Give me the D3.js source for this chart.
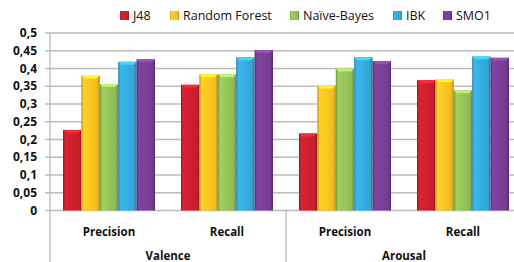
<!DOCTYPE html>
<html>
<head>
<meta charset="utf-8" />
<title>Valence / Arousal</title>
<style>
  body { margin: 0; background: #fff; }
  text { font-family: "Open Sans", sans-serif; fill: #111; }
</style>
</head>
<body>
<svg width="514" height="262"></svg>
<script src="https://cdn.jsdelivr.net/npm/d3@7"></script>
<script>
// chart values
var dimensions = ['Valence', 'Arousal'];
var measures = ['Precision', 'Recall'];
var classifiers = ['J48', 'Random Forest', 'Naïve-Bayes', 'IBK', 'SMO1'];
var colours = ['#d0202e', '#fcc623', '#97c55a', '#36ade1', '#7b3f98'];

var valencePrecision = [0.227, 0.380, 0.356, 0.419, 0.426];
var valenceRecall    = [0.354, 0.384, 0.384, 0.432, 0.452];
var arousalPrecision = [0.217, 0.352, 0.400, 0.432, 0.421];
var arousalRecall    = [0.367, 0.370, 0.339, 0.434, 0.430];

var yTicks = [0, 0.05, 0.1, 0.15, 0.2, 0.25, 0.3, 0.35, 0.4, 0.45, 0.5];
var yTickLabels = ['0', '0,05', '0,1', '0,15', '0,2', '0,25', '0,3', '0,35', '0,4', '0,45', '0,5'];

var groups = [
    { dim: 'Valence', measure: 'Precision', values: valencePrecision },
    { dim: 'Valence', measure: 'Recall', values: valenceRecall },
    { dim: 'Arousal', measure: 'Precision', values: arousalPrecision },
    { dim: 'Arousal', measure: 'Recall', values: arousalRecall }
];

var plotLeft = 50, plotRight = 522, plotTop = 33, plotBottom = 210.5;
var svg = d3.select('svg');
var defs = svg.append('defs');

var y = d3.scaleLinear().domain([0, 0.5]).range([plotBottom, plotTop]);
var x0 = d3.scaleBand().domain(d3.range(groups.length)).range([plotLeft, plotRight]);
var x1 = d3.scaleBand().domain(classifiers).range([13, x0.bandwidth() - 13]);
var dimScale = d3.scaleBand().domain(dimensions).range([plotLeft, plotRight]);
var colour = d3.scaleOrdinal().domain(classifiers).range(colours);

// gradients for the bevelled bars
classifiers.forEach(function (c, i) {
    var base = d3.color(colour(c));
    var g = defs.append('linearGradient').attr('id', 'g' + i)
        .attr('x1', 0).attr('x2', 1).attr('y1', 0).attr('y2', 0);
    g.append('stop').attr('offset', 0).attr('stop-color', base.darker(0.9));
    g.append('stop').attr('offset', 0.12).attr('stop-color', base.brighter(0.15));
    g.append('stop').attr('offset', 0.5).attr('stop-color', base);
    g.append('stop').attr('offset', 0.86).attr('stop-color', base.darker(0.15));
    g.append('stop').attr('offset', 1).attr('stop-color', base.darker(1));
});

// gridlines + tick marks
svg.append('g').selectAll('line').data(yTicks).enter().append('line')
    .attr('x1', plotLeft - 5).attr('x2', plotRight)
    .attr('y1', function (d) { return y(d); })
    .attr('y2', function (d) { return y(d); })
    .attr('stroke', '#bcbcbc').attr('stroke-width', 1.3);

svg.append('g').selectAll('text').data(yTicks).enter().append('text')
    .attr('x', 37).attr('y', function (d) { return y(d); })
    .attr('dy', '0.35em').attr('text-anchor', 'end')
    .style('font-size', '12px').style('font-weight', 'bold')
    .text(function (d, i) { return yTickLabels[i]; });

// axis and category separators
svg.append('line').attr('x1', plotLeft).attr('x2', plotLeft).attr('y1', plotTop).attr('y2', 262)
    .attr('stroke', '#bcbcbc').attr('stroke-width', 1.3);
svg.append('line').attr('x1', dimScale('Arousal')).attr('x2', dimScale('Arousal'))
    .attr('y1', plotBottom).attr('y2', 262)
    .attr('stroke', '#bcbcbc').attr('stroke-width', 1.3);

// bars
var gr = svg.append('g').selectAll('g').data(groups).enter().append('g')
    .attr('transform', function (d, i) { return 'translate(' + x0(i) + ',0)'; });

var bar = gr.selectAll('g').data(function (d) {
        return d.values.map(function (v, i) { return { name: classifiers[i], i: i, value: v }; });
    }).enter().append('g');

bar.append('rect')
    .attr('x', function (d) { return x1(d.name); })
    .attr('y', function (d) { return y(d.value); })
    .attr('width', x1.bandwidth())
    .attr('height', function (d) { return plotBottom - y(d.value); })
    .attr('fill', function (d) { return 'url(#g' + d.i + ')'; });

// top bevel
bar.append('path')
    .attr('d', function (d) {
        var xa = x1(d.name), w = x1.bandwidth(), ya = y(d.value);
        return 'M' + xa + ',' + ya + 'h' + w + 'l-3,3h' + (-(w - 6)) + 'z';
    })
    .attr('fill', function (d) { return d3.color(colour(d.name)).brighter(0.6); });

// category labels
gr.append('text')
    .attr('x', x0.bandwidth() / 2).attr('y', 232).attr('dy', '0.35em')
    .attr('text-anchor', 'middle')
    .style('font-size', '11.5px').style('font-weight', 'bold')
    .text(function (d) { return d.measure; });

svg.append('g').selectAll('text').data(dimensions).enter().append('text')
    .attr('x', function (d) { return dimScale(d) + dimScale.bandwidth() / 2; })
    .attr('y', 256).attr('dy', '0.35em').attr('text-anchor', 'middle')
    .style('font-size', '11.5px').style('font-weight', 'bold')
    .text(function (d) { return d; });

// legend
var legendX = [120, 170, 290, 393, 443];
var lg = svg.append('g').selectAll('g').data(classifiers).enter().append('g')
    .attr('transform', function (d, i) { return 'translate(' + legendX[i] + ',11)'; });
lg.append('rect').attr('width', 9).attr('height', 9)
    .attr('fill', function (d, i) { return 'url(#g' + i + ')'; });
lg.append('text').attr('x', 13).attr('y', 4.5).attr('dy', '0.35em')
    .style('font-size', '12.5px')
    .text(function (d) { return d; });
</script>
</body>
</html>
